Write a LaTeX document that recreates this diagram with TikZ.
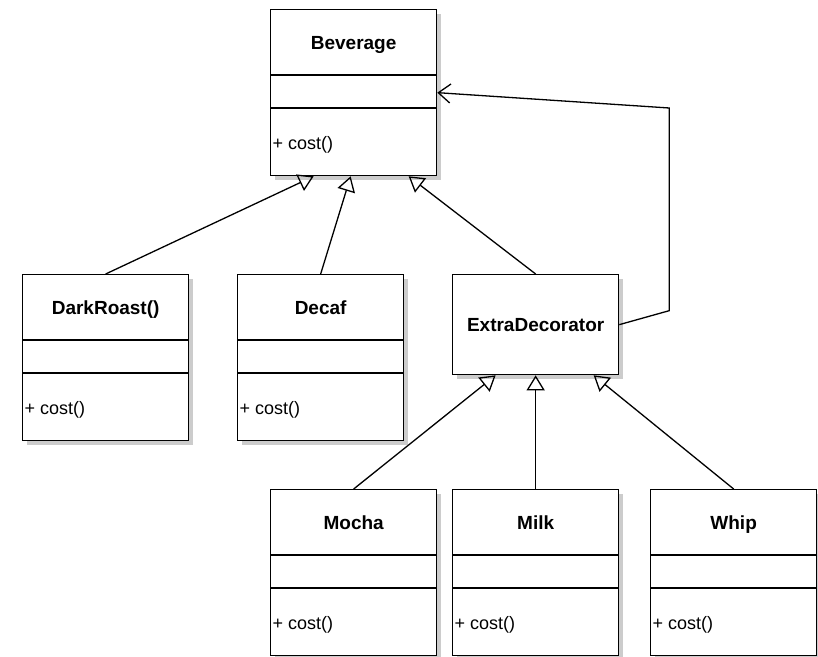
\documentclass[tikz,border=0pt]{standalone}
\usepackage{fontspec}
\setmainfont{Liberation Sans}
\usetikzlibrary{calc,arrows.meta,shadows}

\begin{document}
\begin{tikzpicture}[x=1pt,y=1pt,line width=1.3pt,line join=miter,
  classbox/.style={draw,fill=white,minimum width=166pt,inner sep=0pt,
    drop shadow={shadow xshift=4pt,shadow yshift=-4pt,fill=black!20,opacity=1}},
  classname/.style={font=\fontsize{19}{22}\selectfont\bfseries,text height=14pt,text depth=0pt},
  classop/.style={font=\fontsize{18}{21}\selectfont,anchor=west,inner sep=2pt,text height=13pt,text depth=2pt},
  inherit/.style={-{Triangle[open,width=18pt,length=15pt]}},
  assoc/.style={-{Straight Barb[width=19pt,length=12pt]}}]
  \useasboundingbox (0,0) rectangle (818,-656);

  % classes with three compartments
  \foreach \name/\x/\y/\ttl in {bev/270/9/Beverage, dark/22/274/DarkRoast(),
    decaf/237/274/Decaf, mocha/270/489/Mocha, milk/452/489/Milk, whip/650/489/Whip}{
    \node[classbox,minimum height=166pt,anchor=north west] (\name) at (\x,-\y) {};
    \node[classname] (\name-t) at ($(\name.north)+(0,-33)$) {\ttl};
    \draw ($(\name.north west)+(0,-66)$) -- ($(\name.north east)+(0,-66)$);
    \draw ($(\name.north west)+(0,-99)$) -- ($(\name.north east)+(0,-99)$);
    \node[classop] (\name-op) at ($(\name.south west)+(0,32)$) {+ cost()};
  }
  \node[classbox,classname,minimum height=100pt,anchor=north west] (extra) at (452,-274) {ExtraDecorator};

  % arrow ends on the boxes
  \coordinate (bev-in1) at ($(bev.south)+(-40,0)$);
  \coordinate (bev-in2) at ($(bev.south)+(-3,0)$);
  \coordinate (bev-in3) at ($(bev.south)+(55,0)$);
  \coordinate (extra-in1) at ($(extra.south)+(-40,0)$);
  \coordinate (extra-in3) at ($(extra.south)+(58,0)$);
  \coordinate (bend1) at ($(extra.east)+(50,14)$);
  \coordinate (bend2) at (bend1 |- 0,-108);

  \draw[inherit] (dark.north) -- (bev-in1);
  \draw[inherit] (decaf.north) -- (bev-in2);
  \draw[inherit] (extra.north) -- (bev-in3);
  \draw[inherit] (mocha.north) -- (extra-in1);
  \draw[inherit] (milk.north) -- (extra.south);
  \draw[inherit] (whip.north) -- (extra-in3);
  \draw[assoc] (extra.east) -- (bend1) -- (bend2) -- (bev.east);
\end{tikzpicture}
\end{document}
